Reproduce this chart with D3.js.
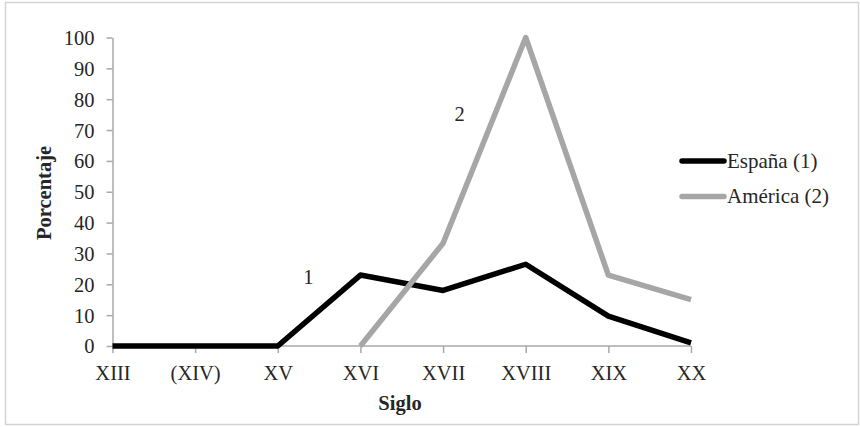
<!DOCTYPE html>
<html>
<head>
<meta charset="utf-8">
<script src="https://cdn.jsdelivr.net/npm/d3@7"></script>
<style>
  html, body { margin: 0; padding: 0; background: #fff; }
  svg { display: block; }
  text { font-family: "Liberation Serif", "Times New Roman", serif; fill: #262626; }
</style>
</head>
<body>
<svg id="chart" width="860" height="427"></svg>
<script>
// Centuries on the x axis
const siglos = ["XIII", "(XIV)", "XV", "XVI", "XVII", "XVIII", "XIX", "XX"];
// Percentage per century; null = no data for that century
const espana = [0, 0, 0, 23, 18, 26.5, 9.7, 1];
const america = [null, null, null, 0, 33.3, 100, 23, 15];
const yTicks = [0, 10, 20, 30, 40, 50, 60, 70, 80, 90, 100];

const series = [
  { name: "España (1)", values: espana, color: "#000000", tag: "1", tagAt: [2.37, 20] },
  { name: "América (2)", values: america, color: "#a6a6a6", tag: "2", tagAt: [4.2, 73] }
];

const svg = d3.select("#chart");

// outer frame
svg.append("rect")
  .attr("x", 5.5).attr("y", 2.5).attr("width", 853).attr("height", 422)
  .attr("fill", "none").attr("stroke", "#d4d4d4").attr("stroke-width", 1.5);

const x = d3.scalePoint().domain(siglos).range([112.5, 691]);
const y = d3.scaleLinear().domain([0, 100]).range([346, 37.5]);

// y axis
const yAxis = svg.append("g").attr("transform", "translate(112.5,0)")
  .call(d3.axisLeft(y).tickValues(yTicks).tickSize(6).tickPadding(12).tickSizeOuter(0));
yAxis.select(".domain").attr("stroke", "#a9a9a9").attr("stroke-width", 1.5);
yAxis.selectAll(".tick line").attr("stroke", "#a9a9a9").attr("stroke-width", 1.5);
yAxis.selectAll(".tick text").attr("font-size", 20.5)
  .attr("fill", "#262626").attr("dy", "0.34em");

// x axis
const xAxis = svg.append("g").attr("transform", "translate(0,346)")
  .call(d3.axisBottom(x).tickSize(7).tickPadding(6).tickSizeOuter(0));
xAxis.select(".domain").attr("stroke", "#a9a9a9").attr("stroke-width", 1.5)
  .attr("d", `M${x.range()[0]},0H${x.range()[1]}`);
xAxis.selectAll(".tick line").attr("stroke", "#a9a9a9").attr("stroke-width", 1.5);
xAxis.selectAll(".tick text").attr("font-size", 20.5)
  .attr("fill", "#262626").attr("dy", "1.0em");

// series lines
const line = d3.line()
  .defined(d => d != null)
  .x((d, i) => x(siglos[i]))
  .y(d => y(d));

series.forEach(s => {
  svg.append("path")
    .datum(s.values)
    .attr("d", line)
    .attr("fill", "none")
    .attr("stroke", s.color)
    .attr("stroke-width", 5.5)
    .attr("stroke-linejoin", "round");
});

// series number tags
series.forEach(s => {
  svg.append("text")
    .attr("x", x(siglos[0]) + s.tagAt[0] * x.step())
    .attr("y", y(s.tagAt[1]))
    .attr("text-anchor", "middle")
    .attr("font-size", 20.5)
    .text(s.tag);
});

// axis titles
svg.append("text")
  .attr("x", 400).attr("y", 410)
  .attr("text-anchor", "middle")
  .attr("font-size", 20.5).attr("font-weight", "bold")
  .text("Siglo");
svg.append("text")
  .attr("transform", "translate(51,193) rotate(-90)")
  .attr("text-anchor", "middle")
  .attr("font-size", 20.5).attr("font-weight", "bold")
  .text("Porcentaje");

// legend
const legend = svg.append("g").attr("transform", "translate(682,161)");
series.forEach((s, i) => {
  const g = legend.append("g").attr("transform", `translate(0,${i * 35.5})`);
  g.append("line")
    .attr("x1", 0).attr("x2", 42).attr("y1", 0).attr("y2", 0)
    .attr("stroke", s.color).attr("stroke-width", 5.5).attr("stroke-linecap", "round");
  g.append("text")
    .attr("x", 45).attr("y", 6.5)
    .attr("font-size", 21)
    .text(s.name);
});
</script>
</body>
</html>
